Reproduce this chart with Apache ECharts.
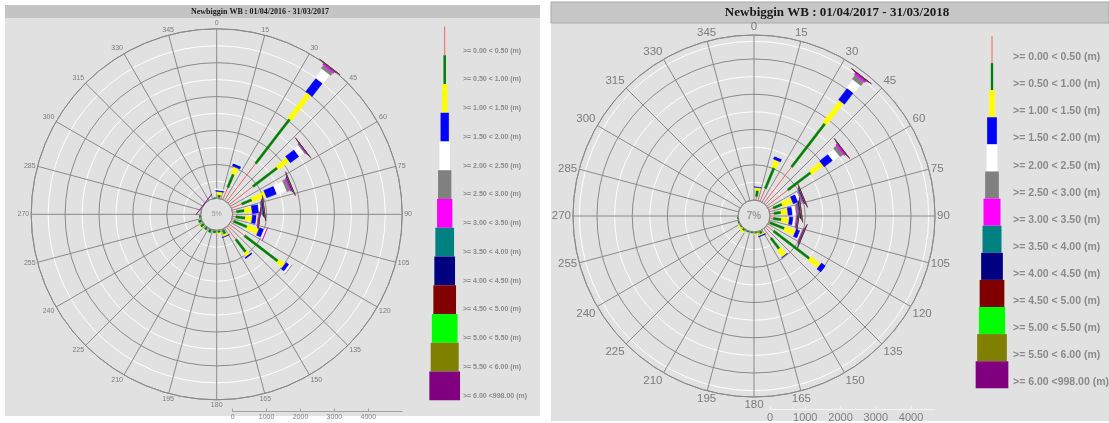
<!DOCTYPE html>
<html><head><meta charset="utf-8">
<script src="https://cdn.jsdelivr.net/npm/echarts@6/dist/echarts.min.js"></script>
<style>html,body{margin:0;padding:0;background:#fff;}#c{width:1109px;height:423px;}</style>
</head><body><div id="c"></div>
<script>
// ---------- data ----------
const directions = [7.5,22.5,37.5,52.5,67.5,82.5,97.5,112.5,127.5,142.5,157.5,172.5,187.5,202.5,217.5,232.5,247.5,262.5,277.5,292.5,307.5,322.5,337.5,352.5];
const classLabels = ['>= 0.00 < 0.50 (m)','>= 0.50 < 1.00 (m)','>= 1.00 < 1.50 (m)','>= 1.50 < 2.00 (m)','>= 2.00 < 2.50 (m)','>= 2.50 < 3.00 (m)','>= 3.00 < 3.50 (m)','>= 3.50 < 4.00 (m)','>= 4.00 < 4.50 (m)','>= 4.50 < 5.00 (m)','>= 5.00 < 5.50 (m)','>= 5.50 < 6.00 (m)','>= 6.00 <998.00 (m)'];
const classColors = ['#f26464','#007f00','#ffff00','#0000ff','#ffffff','#808080','#ff00ff','#008080','#000080','#800000','#00ff00','#808000','#800080'];
const scaleTicks = [0,1000,2000,3000,4000];
const titleLeft = 'Newbiggin WB : 01/04/2016 - 31/03/2017';
const titleRight = 'Newbiggin WB : 01/04/2017 - 31/03/2018';
const holeLeft = '5%';
const holeRight = '7%';

// left chart (2016-2017): counts per height class, one value per direction
const left0  = [30,390,1420,880,330,120,100,70,570,460,30,20,20,20,15,20,20,15,5,0,0,0,0,10];
const left1  = [80,420,1645,900,320,235,280,430,1230,470,130,60,60,80,70,100,80,30,0,0,0,0,0,10];
const left2  = [90,210,935,400,430,220,200,350,220,120,60,20,0,0,0,10,0,0,0,0,0,0,0,0];
const left3  = [40,90,495,320,320,200,125,140,110,50,10,0,0,0,0,0,0,0,0,0,0,0,0,0];
const left4  = [30,10,330,180,300,60,40,70,70,5,0,0,0,0,0,0,0,0,0,0,0,0,0,0];
const left5  = [0,0,110,30,100,30,10,5,3,0,0,0,0,0,0,0,0,0,0,0,0,0,0,0];
const left6  = [0,0,50,20,40,10,30,3,0,0,0,0,0,0,0,0,0,0,0,0,0,0,0,0];
const left7  = [0,0,10,5,15,25,5,0,0,0,0,0,0,0,0,0,0,0,0,0,0,0,0,0];
const left8  = [0,0,5,3,10,25,3,0,0,0,0,0,0,0,0,0,0,0,0,0,0,0,0,0];
const left9  = [0,0,3,2,5,5,2,0,0,0,0,0,0,0,0,0,0,0,0,0,0,0,0,0];
const left10 = [0,0,2,1,10,3,1,0,0,0,0,0,0,0,0,0,0,0,0,0,0,0,0,0];
const left11 = [0,0,2,1,3,2,1,0,0,0,0,0,0,0,0,0,0,0,0,0,0,0,0,0];
const left12 = [0,0,3,2,3,2,1,0,0,0,0,0,0,0,0,0,0,0,0,0,10,0,0,0];

// right chart (2017-2018)
const right0  = [110,390,1300,760,140,120,100,40,250,340,20,15,10,10,10,10,10,5,0,0,0,0,0,0];
const right1  = [170,640,1550,810,270,200,230,440,1280,380,70,40,20,20,50,30,20,10,0,0,0,0,0,0];
const right2  = [80,220,775,405,300,190,220,320,350,240,40,10,0,0,40,20,0,0,0,0,0,0,0,0];
const right3  = [10,90,410,305,150,130,110,120,150,10,20,0,0,0,0,0,0,0,0,0,0,0,0,0];
const right4  = [0,5,290,225,80,100,70,40,10,0,0,0,0,0,0,0,0,0,0,0,0,0,0,0];
const right5  = [0,0,140,115,40,50,30,20,0,0,0,0,0,0,0,0,0,0,0,0,0,0,0,0];
const right6  = [0,0,60,50,20,30,20,20,0,0,0,0,0,0,0,0,0,0,0,0,0,0,0,0];
const right7  = [0,0,10,8,15,25,10,10,0,0,0,0,0,0,0,0,0,0,0,0,0,0,0,0];
const right8  = [0,0,5,5,15,20,5,5,0,0,0,0,0,0,0,0,0,0,0,0,0,0,0,0];
const right9  = [0,0,3,3,5,10,3,5,0,0,0,0,0,0,0,0,0,0,0,0,0,0,0,0];
const right10 = [0,0,2,2,5,10,5,5,0,0,0,0,0,0,0,0,0,0,0,0,0,0,0,0];
const right11 = [0,0,1,1,3,5,2,3,0,0,0,0,0,0,0,0,0,0,0,0,0,0,0,0];
const right12 = [0,0,2,3,3,5,3,8,0,0,0,0,0,0,0,0,0,0,0,0,0,0,0,0];

const leftClasses = [left0,left1,left2,left3,left4,left5,left6,left7,left8,left9,left10,left11,left12];
const rightClasses = [right0,right1,right2,right3,right4,right5,right6,right7,right8,right9,right10,right11,right12];

// ---------- styling ----------
const barWLeft  = [1,2.2,4.8,8,9.5,12,14,16,18,20,22,24,26];
const barWRight = [1,2.2,5,7.5,9,11,13.5,15.5,17.5,19.5,21.5,23.5,25.5];
const legWLeft  = [1,2.5,5.3,8.3,10.7,13.3,15.3,18.7,20.7,22.7,25.7,28,30.7];
const legWRight = [1,2.3,5.7,9.7,10.7,13.7,17,19,21.7,24.7,26.3,29.7,32.7];

function buildData(cls){
  const data=[];
  directions.forEach((d,j)=>{
    let cum=0;
    cls.forEach((arr,i)=>{
      const v=arr[j];
      if(v>0){data.push([cum,cum+v,d,i]);cum+=v;}
    });
  });
  return data;
}

function makeRender(widths){
  return function(params,api){
    const s=api.value(0),e=api.value(1),ang=api.value(2),ci=api.value(3);
    const p0=api.coord([s,ang]),p1=api.coord([e,ang]);
    const cs=params.coordSys;
    let ux=p1[0]-cs.cx,uy=p1[1]-cs.cy;const L=Math.sqrt(ux*ux+uy*uy)||1;ux/=L;uy/=L;
    const nx=-uy,ny=ux;
    const color=classColors[ci];
    if(ci===0){
      return {type:'line',shape:{x1:p0[0],y1:p0[1],x2:p1[0],y2:p1[1]},style:{stroke:color,lineWidth:1}};
    }
    const hw=widths[ci]/2;
    return {type:'polygon',shape:{points:[
      [p0[0]+nx*hw,p0[1]+ny*hw],[p1[0]+nx*hw,p1[1]+ny*hw],
      [p1[0]-nx*hw,p1[1]-ny*hw],[p0[0]-nx*hw,p0[1]-ny*hw]]},
      style:{fill:color,stroke:color,lineWidth:0.5}};
  };
}

function angleAxisCfg(idx,fs){
  return {polarIndex:idx,type:'value',min:0,max:360,interval:15,startAngle:90,clockwise:true,z:1,
    axisLine:{show:true,lineStyle:{color:'#8a8a8a',width:1}},
    axisTick:{show:false},
    axisLabel:{show:true,fontSize:fs,color:'#7c7c7c',margin:2,fontFamily:'Liberation Sans, Arial, sans-serif',
      formatter:v=>v===360?'':String(v)},
    splitLine:{show:true,lineStyle:{color:'#8a8a8a',width:1}}};
}
function radiusAxisCfg(idx,max){
  return {polarIndex:idx,type:'value',min:0,max:max,interval:500,
    axisLine:{show:false},axisTick:{show:false},axisLabel:{show:false},
    splitLine:{show:true,lineStyle:{color:['#8a8a8a','#ffffff'],width:1}}};
}

const graphics=[];
// panels
graphics.push({type:'rect',z:-10,shape:{x:5,y:5,width:535,height:411},style:{fill:'#e1e1e1'}});
graphics.push({type:'rect',z:-9,shape:{x:5,y:5,width:535,height:13},style:{fill:'#c4c4c4'}});
graphics.push({type:'rect',z:-10,shape:{x:551,y:2,width:558,height:419},style:{fill:'#e1e1e1'}});
graphics.push({type:'rect',z:-9,shape:{x:551,y:2,width:558,height:21},style:{fill:'#c6c6c6',stroke:'#a8a8a8',lineWidth:1}});
graphics.push({type:'text',z:10,x:260,y:11.5,style:{text:titleLeft,font:'bold 8px "Liberation Serif", serif',fill:'#1a1a1a',textAlign:'center',textVerticalAlign:'middle'}});
graphics.push({type:'text',z:10,x:837,y:13,style:{text:titleRight,font:'bold 13px "Liberation Serif", serif',fill:'#1a1a1a',textAlign:'center',textVerticalAlign:'middle'}});
// hole labels
graphics.push({type:'text',z:10,x:216.7,y:214.3,style:{text:holeLeft,font:'7px "Liberation Sans", sans-serif',fill:'#999',textAlign:'center',textVerticalAlign:'middle'}});
graphics.push({type:'text',z:10,x:754,y:216,style:{text:holeRight,font:'bold 10px "Liberation Sans", sans-serif',fill:'#9c9c9c',textAlign:'center',textVerticalAlign:'middle'}});
// legends
function addLegend(cx,top0,h,widths,labelX,labelDy,font){
  classLabels.forEach((lab,i)=>{
    const t=top0+h*i;
    if(i===0){
      graphics.push({type:'line',z:5,shape:{x1:cx,y1:t,x2:cx,y2:t+h},style:{stroke:classColors[0],lineWidth:1}});
    } else {
      graphics.push({type:'rect',z:5,shape:{x:cx-widths[i]/2,y:t,width:widths[i],height:h},style:{fill:classColors[i]}});
    }
    graphics.push({type:'text',z:10,x:labelX,y:t+h-labelDy,style:{text:lab,font:font,fill:'#8a8a8a',textAlign:'left',textVerticalAlign:'middle'}});
  });
}
addLegend(444.7,26.5,28.75,legWLeft,463,4.5,'bold 7px "Liberation Sans", sans-serif');
addLegend(992,36,27.1,legWRight,1013,5.8,'bold 10.5px "Liberation Sans", sans-serif');

const plainNum = v => String(v);

const option={
  animation:false,
  backgroundColor:'#ffffff',
  polar:[{center:[216.7,214.3],radius:[16,185.5]},{center:[754,216],radius:[16,181]}],
  angleAxis:[angleAxisCfg(0,7),angleAxisCfg(1,11.5)],
  radiusAxis:[radiusAxisCfg(0,5000),radiusAxisCfg(1,4680)],
  grid:[{left:232.7,top:410,width:169.5,height:1.5,outerBoundsMode:'none'},{left:770,top:408,width:165,height:1.5,outerBoundsMode:'none'}],
  xAxis:[
    {gridIndex:0,type:'value',min:0,max:5000,position:'bottom',
      axisLine:{show:true,lineStyle:{color:'#a0a0a0'}},
      axisTick:{show:true,inside:true,length:3,customValues:scaleTicks,lineStyle:{color:'#a0a0a0'}},
      axisLabel:{customValues:scaleTicks,formatter:plainNum,fontSize:7,color:'#808080',margin:2},
      splitLine:{show:false}},
    {gridIndex:1,type:'value',min:0,max:4680,position:'bottom',
      axisLine:{show:true,lineStyle:{color:'#f4f4f4'}},
      axisTick:{show:true,inside:true,length:3,customValues:scaleTicks,lineStyle:{color:'#f4f4f4'}},
      axisLabel:{customValues:scaleTicks,formatter:plainNum,fontSize:11,color:'#808080',margin:3},
      splitLine:{show:false}}
  ],
  yAxis:[{gridIndex:0,type:'value',show:false},{gridIndex:1,type:'value',show:false}],
  graphic:{elements:graphics},
  series:[
    {type:'custom',coordinateSystem:'polar',polarIndex:0,dimensions:['start','end','angle','cls'],
      encode:{radius:[0,1],angle:2},renderItem:makeRender(barWLeft),data:buildData(leftClasses),z:3},
    {type:'custom',coordinateSystem:'polar',polarIndex:1,dimensions:['start','end','angle','cls'],
      encode:{radius:[0,1],angle:2},renderItem:makeRender(barWRight),data:buildData(rightClasses),z:3}
  ]
};
const chart=echarts.init(document.getElementById('c'),null,{renderer:'canvas'});
chart.setOption(option);
</script></body></html>
